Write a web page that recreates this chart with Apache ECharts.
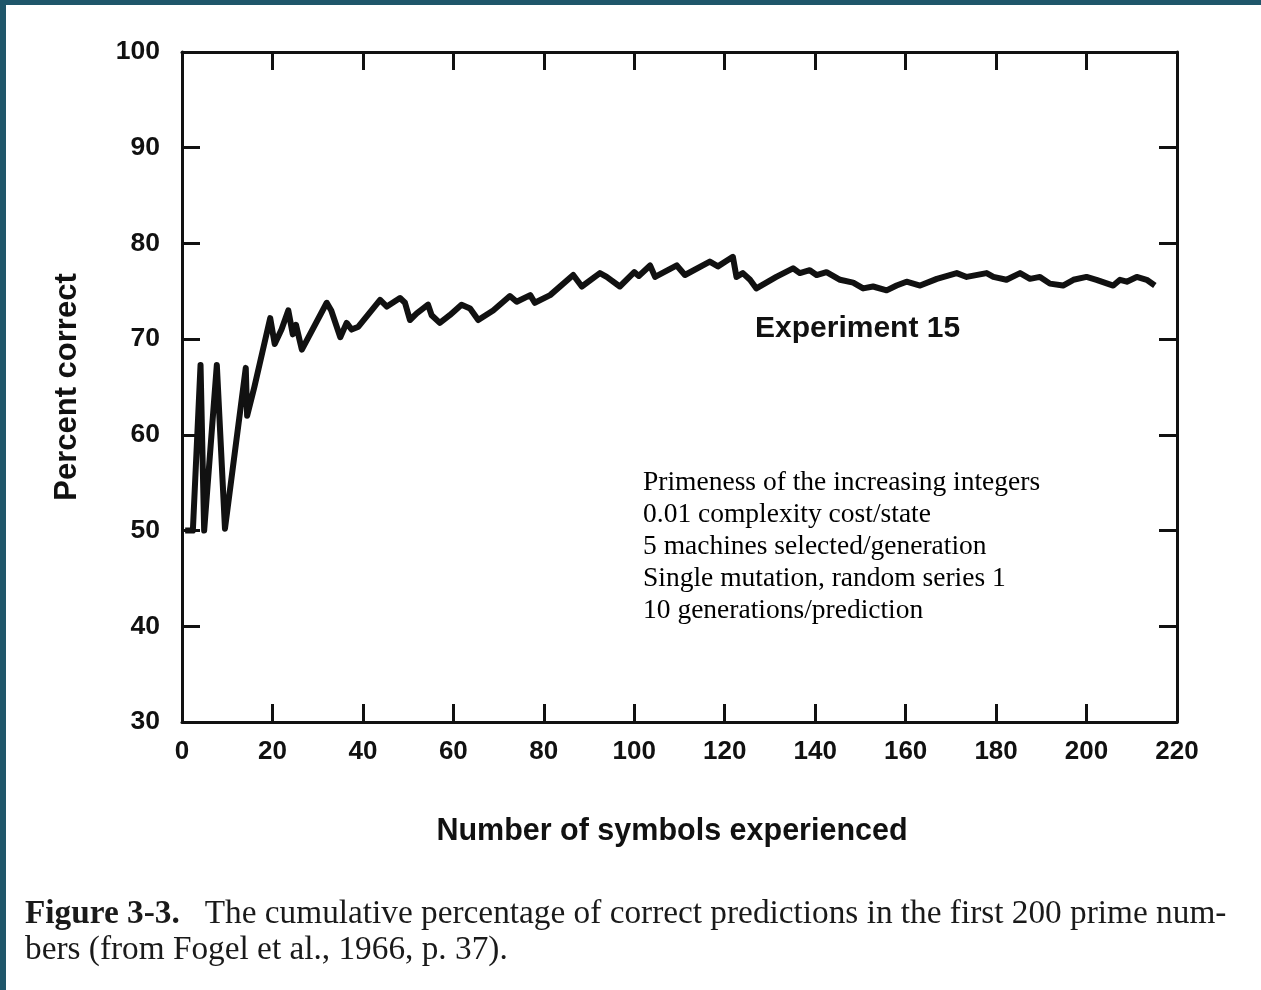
<!DOCTYPE html>
<html><head><meta charset="utf-8">
<script src="https://cdn.jsdelivr.net/npm/echarts@6/dist/echarts.min.js"></script>
<style>html,body{margin:0;padding:0;background:#fff}#c{width:1261px;height:990px}</style>
</head><body><div id="c"></div>
<script>
// Number of symbols experienced (x) and cumulative percent correct (y)
const symbolsX = [0.7, 2.4, 4.1, 4.9, 5.3, 7.7, 9.5, 14.1, 14.4, 16, 19.5, 20.5, 22, 23.5, 24.5, 25.2, 26.5, 32, 33, 35, 36.4, 37.5, 39, 43.8, 45.3, 48.2, 49.3, 50.4, 51.9, 54.4, 55.2, 57, 59.2, 61.8, 63.7, 65.5, 68.8, 72.5, 74, 77, 78, 81.4, 86.5, 88.4, 92.4, 93.9, 96.8, 100, 101, 103.5, 104.6, 109.4, 111.2, 116.7, 118.5, 121.8, 122.6, 124, 125.6, 127, 131.4, 135.1, 136.6, 138.8, 140.3, 142.5, 145.5, 148.4, 150.6, 152.8, 155.8, 158, 160.2, 163.2, 166.9, 171.3, 173.5, 177.9, 179.4, 182.3, 185.3, 187.5, 189.7, 191.9, 194.8, 197.1, 200, 202.2, 205.9, 207.4, 208.9, 211.1, 213.3, 215.1];
const percentY = [50, 50, 67.3, 50, 50, 67.3, 50.2, 67, 62, 65, 72.2, 69.5, 71, 73, 70.5, 71.5, 68.9, 73.8, 73, 70.2, 71.7, 71, 71.3, 74.1, 73.4, 74.3, 73.8, 72, 72.7, 73.6, 72.5, 71.7, 72.5, 73.6, 73.2, 72, 73, 74.5, 73.9, 74.6, 73.8, 74.6, 76.7, 75.5, 76.9, 76.5, 75.5, 77, 76.6, 77.7, 76.5, 77.7, 76.7, 78.1, 77.6, 78.6, 76.5, 76.9, 76.2, 75.3, 76.5, 77.4, 76.9, 77.2, 76.7, 77, 76.2, 75.9, 75.3, 75.5, 75.1, 75.6, 76, 75.6, 76.3, 76.9, 76.5, 76.9, 76.5, 76.2, 76.9, 76.3, 76.5, 75.8, 75.6, 76.2, 76.5, 76.2, 75.6, 76.2, 76, 76.5, 76.2, 75.6];

const xTitle = 'Number of symbols experienced';
const yTitle = 'Percent correct';
const seriesLabel = 'Experiment 15';
const noteLines = [
  'Primeness of the increasing integers',
  '0.01 complexity cost/state',
  '5 machines selected/generation',
  'Single mutation, random series 1',
  '10 generations/prediction'
];
const captionBold = 'Figure 3-3.';
const captionRest = 'The cumulative percentage of correct predictions in the first 200 prime num-';
const captionLine2 = 'bers (from Fogel et al., 1966, p. 37).';

const INK = '#111';
const sans = 'Liberation Sans, Arial, sans-serif';
const serif = 'Liberation Serif, Times New Roman, serif';

const chart = echarts.init(document.getElementById('c'), null, {renderer: 'canvas'});

const axisLine = {show: true, onZero: false, lineStyle: {color: INK, width: 3}};
const axisTick = {show: true, inside: true, length: 18, lineStyle: {color: INK, width: 3}};

chart.setOption({
  backgroundColor: '#1f566a',
  animation: false,
  grid: {left: 182, right: 84, top: 52, bottom: 268, outerBoundsMode: 'none', containLabel: false},
  graphic: [
    {type: 'rect', left: 6, top: 5, z: -100, silent: true,
     shape: {width: 1255, height: 985}, style: {fill: '#ffffff'}},
    {type: 'text', left: 755, top: 314, z: 100,
     style: {text: seriesLabel, font: 'bold 30px ' + sans, fill: INK}},
    {type: 'text', left: 643, top: 467, z: 100,
     style: {text: noteLines.join('\n'), font: '27.5px ' + serif, lineHeight: 32, fill: '#000'}},
    {type: 'text', left: 25, top: 896, z: 100,
     style: {
       text: '{b|' + captionBold + '}   ' + captionRest + '\n' + captionLine2,
       font: '33.3px ' + serif, lineHeight: 36, fill: '#1a1a1a',
       rich: {b: {font: 'bold 33.3px ' + serif, fill: '#1a1a1a', lineHeight: 36}}
     }}
  ],
  xAxis: [
    {type: 'value', min: 0, max: 220, interval: 20, position: 'bottom',
     axisLine, axisTick, splitLine: {show: false},
     axisLabel: {color: INK, fontFamily: sans, fontWeight: 'bold', fontSize: 26, margin: 17},
     name: xTitle, nameLocation: 'middle', nameGap: 94,
     nameTextStyle: {color: INK, fontFamily: sans, fontWeight: 'bold', fontSize: 30.5, padding: [0, 15, 0, 0]}},
    {type: 'value', min: 0, max: 220, interval: 20, position: 'top',
     axisLine, axisTick, splitLine: {show: false}, axisLabel: {show: false}}
  ],
  yAxis: [
    {type: 'value', min: 30, max: 100, interval: 10, position: 'left',
     axisLine, axisTick, splitLine: {show: false},
     axisLabel: {color: INK, fontFamily: sans, fontWeight: 'bold', fontSize: 26.5, margin: 22},
     name: yTitle, nameLocation: 'middle', nameGap: 99,
     nameTextStyle: {color: INK, fontFamily: sans, fontWeight: 'bold', fontSize: 31}},
    {type: 'value', min: 30, max: 100, interval: 10, position: 'right',
     axisLine, axisTick, splitLine: {show: false}, axisLabel: {show: false}}
  ],
  series: [{
    type: 'line',
    name: seriesLabel,
    xAxisIndex: 0, yAxisIndex: 0,
    data: symbolsX.map((x, i) => [x, percentY[i]]),
    showSymbol: false, symbol: 'none',
    lineStyle: {color: INK, width: 6, join: 'round'},
    z: 5
  }]
});
</script></body></html>
